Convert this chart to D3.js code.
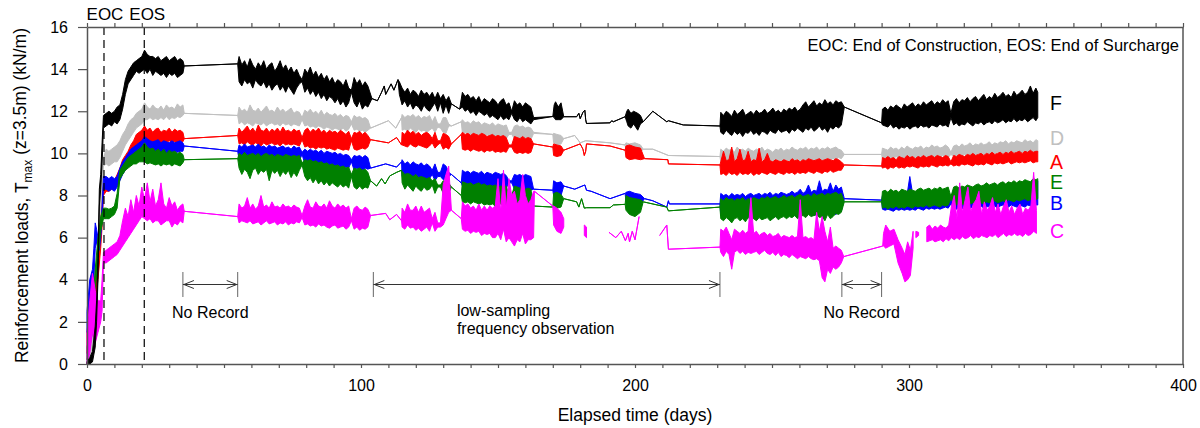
<!DOCTYPE html>
<html>
<head>
<meta charset="utf-8">
<script src="https://cdn.jsdelivr.net/npm/d3@7"></script>
<style>
  body { margin: 0; background: #fff; }
  svg { display: block; font-family: "Liberation Sans", Arial, sans-serif; }
</style>
</head>
<body>
<svg id="chart" width="1200" height="428"></svg>
<script>
'use strict';

// readings. A dense stretch is written as run(firstDay, lows, highs),
// one low/high pair per day; [day, value] is a single sparse reading; null = no record.
function run(t0, lo, hi) {
  return lo.map((v, i) => [t0 + i, v, hi[i]]);
}

const seriesF = [
  [0,0,0.1],[1,0,0.3],[2,0.1,0.6],[3,0.8,1.8],[3.5,2,3],[4,4,5],[4.5,7.5,8.3],[5,8.3,9],[5.5,9.5,10.5],
  ...run(6,
    [11.2,11.3,11.4,11.3,11.5,11.4,11.6,12.1,12.8,13.3,13.5,13.7,13.9,13.8,13.9,14.0,13.8,14.0,13.7,13.9,13.8,13.7,13.8,13.6,13.8,13.7,13.8,13.6,13.7,13.8],
    [11.8,11.9,12.0,11.9,12.0,12.2,12.3,12.8,13.5,13.9,14.1,14.3,14.4,14.5,14.6,14.9,14.7,14.6,14.6,14.5,14.6,14.4,14.5,14.6,14.4,14.5,14.6,14.4,14.5,14.4]),
  [35.5,14.15],[55,14.25],
  ...run(55.5,
    [13.4,13.2,13.5,13.3,13.4,13.1,13.5,13.3,13.2,13.4,13.1,13.3,13.0,13.2,13.3,13.0,13.2,12.9,13.2,13.0,12.8,13.1,13.3,13.4,
     12.9,13.1,12.8,13.0,12.7,12.9,12.6,12.8,12.5,12.7,12.6,12.4,12.6,12.3,12.5,12.2,12.4,12.9,12.4,12.2,12.5,12.1,12.3,12.2],
    [14.6,14.2,14.4,14.1,14.5,14.2,14.0,14.3,14.1,14.4,14.0,14.2,14.3,13.9,14.1,14.4,14.0,14.2,13.9,14.1,13.8,14.0,13.7,13.5,
     14.0,13.8,14.1,13.7,13.9,13.6,13.8,13.5,13.7,13.4,13.6,13.3,13.5,13.4,13.2,13.5,13.1,13.0,13.6,13.3,13.5,13.2,13.4,13.2]),
  [104,12.6],[106,12.5],[107.5,12.9],[108.5,13.2],[109,12.8],[111,13.3],[112,13.0],[113.5,13.5],
  ...run(114,
    [12.8,12.3,12.5,12.2,12.4,12.1,12.3,12.2,12.0,12.3,12.1,12.0,12.2,12.4,12.0,12.4,11.9,12.3,11.9,12.35],
    [13.4,13.1,12.9,13.1,12.8,13.0,12.9,12.7,13.0,12.8,12.9,12.7,12.9,12.6,12.9,12.6,12.8,12.5,12.7,12.35]),
  [136,12.1],
  ...run(137,
    [12.2,12.0,12.1,11.9,12.0,11.8,12.0,11.9,11.8,11.9,11.7,11.8,11.7,11.6,11.8,11.6,11.7,11.6,11.9,11.6,11.5,11.7,11.5,11.6,11.5,11.4,11.6],
    [12.9,12.7,12.8,12.6,12.7,12.5,12.7,12.4,12.6,12.5,12.4,12.6,12.5,12.3,12.5,12.6,12.3,12.4,12.0,12.5,12.3,12.4,12.2,12.4,12.3,12.2,11.7]),
  [170,11.75],[170.5,11.7,12.3],[171,11.6,12.45],[172,11.6,12.2],[173,11.6,12.4],[174,11.74],
  [178.7,11.74],[179.5,11.9],[180,11.65],[181,11.95],[181.7,12.05],[182,11.6],[182.3,11.42],
  [190.9,11.45],[191.5,11.55],[192.1,11.5],[196.4,11.74],
  [197,11.5,12.0],[197.5,11.3,12.1],[198.5,11.2,11.9],[199.5,11.4,12.0],[201,11.1,11.9],[202,11.4,11.8],
  [203,11.5],[206.5,12.0],[211.6,11.5],[212.2,11.55],[217.6,11.35],[231,11.3],
  ...run(231.3,
    [11.0,10.9,11.1,10.95,10.85,11.05,10.9,11.0,10.8,11.0,10.95,11.1,10.9,11.0,10.85,11.05,11.0,10.9,11.1,11.0,10.95,11.15,11.0,
     11.05,11.1,10.95,11.15,11.05,11.2,11.1,11.0,11.2,11.1,11.25,11.05,11.15,11.3,11.1,11.2,11.0,11.25,11.15,11.3,11.2,11.35],
    [11.95,11.8,12.0,11.9,11.75,12.05,11.85,11.95,12.1,11.8,11.9,12.0,11.85,12.05,11.9,11.95,12.1,11.9,12.0,12.15,11.95,12.05,11.9,
     12.1,12.0,12.15,12.05,12.2,12.0,12.1,12.3,12.45,12.2,12.35,12.5,12.25,12.4,12.3,12.55,12.35,12.45,12.3,12.5,12.4,12.45]),
  [276.4,12.2],[290,11.45],
  ...run(290.3,
    [11.35,11.3,11.25,11.4,11.2,11.3,11.15,11.25,11.2,11.3,11.15,11.25,11.3,11.2,11.35,11.25,11.3,11.2,11.35,11.3,
     11.25,11.4,11.3,11.35,11.25,11.7,11.35,11.45,11.3,11.4,11.35,11.5,11.4,11.3,11.45,11.4,11.5,11.35,11.45,11.5,
     11.4,11.55,11.45,11.5,11.6,11.45,11.55,11.5,11.65,11.5,11.6,11.55,11.65,11.5,11.6,11.7,11.55],
    [12.1,12.2,12.05,12.25,12.15,12.3,12.2,12.1,12.35,12.2,12.3,12.4,12.2,12.35,12.25,12.45,12.3,12.4,12.5,12.3,
     12.45,12.35,12.55,12.4,12.5,11.9,12.45,12.6,12.4,12.55,12.5,12.65,12.45,12.6,12.7,12.5,12.65,12.8,12.55,12.7,
     12.6,12.85,12.65,12.75,12.9,12.7,12.8,12.65,12.95,12.75,12.85,13.0,12.8,12.9,13.2,12.85,13.1]),
  [347,11.7,12.9]
];

const seriesD = [
  [0,0,0.3],[1,0.3,1],[2,0.8,2],[3,2,3.5],[4,4,5.5],[5,6,8],[5.5,8,9],
  ...run(6,
    [9.4,9.5,9.4,9.5,9.6,9.6,9.8,10.1,10.4,10.6,10.8,11.0,11.2,11.3,11.4,11.6,11.6,11.7,11.6,11.65,11.6,11.7,11.6,11.75,11.6,11.7,11.65,11.75,11.7,11.8],
    [9.8,10.2,10.1,10.2,10.3,10.4,10.6,10.9,11.1,11.4,11.6,11.7,11.9,12.0,12.1,12.4,12.2,12.1,12.3,12.15,12.1,12.25,12.05,12.3,12.15,12.2,12.1,12.35,12.2,12.3]),
  [35.5,11.9],[55,11.8],
  ...run(55.5,
    [11.4,11.5,11.35,11.45,11.4,11.3,11.45,11.4,11.35,11.45,11.3,11.4,11.45,11.35,11.4,11.3,11.45,11.35,11.4,11.3,11.4,11.35,11.3,11.6,
     11.3,11.35,11.25,11.3,11.2,11.3,11.25,11.15,11.25,11.2,11.1,11.2,11.15,11.1,11.2,11.05,11.15,11.4,11.1,11.15,11.05,11.1,11.0,11.1],
    [12.2,12.0,12.1,11.95,12.3,12.05,12.0,12.15,11.95,12.1,12.25,12.0,12.05,11.95,12.2,12.0,12.1,11.95,12.05,12.15,11.9,12.0,11.95,11.7,
     12.05,11.95,12.1,11.9,12.0,11.85,12.05,11.8,11.95,11.85,11.8,11.9,11.75,11.85,11.7,11.8,11.75,11.5,11.8,11.7,11.75,11.65,11.7,11.6]),
  [103.5,11.2],[110,11.55],[112.7,11.2],[114.8,11.7],
  ...run(115,
    [11.1,11.15,11.05,11.2,11.1,11.0,11.15,11.05,11.1,11.0,11.1,11.2,11.0,11.25,11.2,11.0,10.95,11.3,11.3],
    [11.85,11.7,11.8,11.75,11.85,11.7,11.8,11.65,11.75,11.7,11.8,11.5,11.75,11.4,11.4,11.7,11.7,11.4,11.3]),
  [136.6,11.5],
  ...run(137,
    [10.95,11.0,10.9,10.85,10.95,10.8,10.9,10.85,10.8,10.9,10.75,10.85,10.75,10.8,10.75,10.8,10.7,10.9,10.9,10.7,10.75,10.7,10.8,10.7,10.75,10.65,10.95],
    [11.6,11.45,11.5,11.4,11.55,11.45,11.5,11.35,11.45,11.4,11.35,11.45,11.3,11.4,11.35,11.3,11.35,11.0,11.0,11.3,11.35,11.25,11.3,11.2,11.25,11.2,11.0]),
  [170,10.9],[170.3,10.5,10.95],[171.5,10.4,10.9],[173,10.45,10.85],[174,10.7],
  [178,10.85],[180,10.5],[182,10.6],[190.9,10.5],[196.4,10.4],
  [196.7,10.1,10.5],[198,10.0,10.45],[200,10.1,10.5],[202,10.05,10.4],[203,10.2],
  [206.5,10.2],[212.2,9.9],[231,9.85],
  ...run(231.3,
    [9.6,9.65,9.55,9.65,9.6,9.7,9.6,9.55,9.65,9.6,9.7,9.6,9.65,9.55,9.6,9.7,9.65,9.6,9.55,9.65,9.6,9.7,9.65,
     9.6,9.7,9.65,9.6,9.7,9.75,9.65,9.7,9.65,9.75,9.7,9.65,9.7,9.75,9.65,9.7,9.75,9.7,9.75,9.7,9.8,9.75],
    [10.2,10.1,10.25,10.15,10.2,10.05,10.3,10.15,10.2,10.1,10.25,10.15,10.1,10.2,10.15,10.3,10.1,10.2,10.15,10.05,10.2,10.15,10.25,
     10.1,10.2,10.15,10.3,10.2,10.15,10.25,10.2,10.3,10.15,10.25,10.2,10.3,10.15,10.25,10.2,10.3,10.2,10.25,10.3,10.2,10.15]),
  [276.4,9.95],[290,9.95],
  ...run(290.3,
    [9.75,9.8,9.7,9.8,9.75,9.85,9.75,9.8,9.75,9.85,9.8,9.85,9.8,9.75,9.85,9.8,9.85,9.8,9.9,9.8,
     9.85,9.8,9.9,9.85,9.8,9.95,9.85,9.9,9.85,9.9,9.95,9.85,9.9,9.95,9.9,10.0,9.9,9.95,10.0,9.95,
     9.9,10.0,10.05,9.95,10.0,10.05,9.95,10.05,10.0,10.1,10.0,10.05,10.1,10.0,10.05,10.1,10.05],
    [10.25,10.2,10.15,10.3,10.2,10.25,10.15,10.3,10.2,10.35,10.25,10.2,10.3,10.25,10.35,10.2,10.3,10.25,10.4,10.3,
     10.35,10.25,10.3,10.4,10.3,10.05,10.35,10.4,10.3,10.45,10.35,10.4,10.5,10.35,10.45,10.4,10.5,10.4,10.45,10.55,
     10.4,10.5,10.45,10.55,10.5,10.6,10.45,10.55,10.5,10.6,10.55,10.5,10.65,10.55,10.6,10.5,10.65]),
  [347,10.05,10.6]
];

const seriesA = [
  [0,0.5,1.5],[1,1.5,2.8],[2,2,3.5],[3,3,4.2],[4,4,5.5],[5,5.5,6.8],[5.5,6.5,7.5],
  ...run(6,
    [8.0,8.2,8.2,8.3,8.3,8.5,8.8,9.2,9.5,9.7,9.9,10.1,10.2,10.3,10.4,10.5,10.5,10.6,10.5,10.55,10.6,10.5,10.55,10.5,10.6,10.5,10.55,10.5,10.6,10.55],
    [8.4,8.6,8.5,8.6,8.7,9.0,9.3,9.7,9.9,10.1,10.4,10.6,10.9,11.0,11.1,11.3,11.1,11.2,11.0,11.15,11.2,11.0,11.1,11.05,11.2,11.0,11.15,11.05,11.1,11.0]),
  [35.5,10.7],[55,10.85],
  ...run(55.5,
    [10.45,10.5,10.4,10.55,10.45,10.4,10.5,10.45,10.35,10.5,10.4,10.45,10.5,10.4,10.45,10.35,10.5,10.4,10.45,10.4,10.45,10.4,10.35,10.65,
     10.3,10.35,10.25,10.3,10.2,10.3,10.25,10.3,10.2,10.25,10.2,10.15,10.25,10.2,10.15,10.2,10.15,10.6,10.2,10.15,10.2,10.25,10.2,10.3],
    [11.2,11.0,11.15,11.3,11.05,11.2,11.0,11.35,11.1,11.05,11.2,11.0,11.15,11.05,11.2,11.0,11.25,11.05,11.1,11.0,11.15,11.05,11.1,10.75,
     11.1,11.2,11.0,11.15,11.05,11.2,11.0,11.1,10.95,11.1,11.0,11.05,10.95,11.1,11.0,10.9,11.05,10.7,11.0,10.95,11.05,10.9,11.0,10.85]),
  [103.5,10.65],[110,10.5],[113,10.75],[114.8,10.4],
  ...run(115,
    [10.4,10.35,10.3,10.45,10.35,10.3,10.4,10.35,10.3,10.25,10.35,10.5,10.25,10.4,10.5,10.2,10.3,10.2,10.45],
    [11.0,10.9,11.1,10.95,11.05,10.9,11.0,10.85,10.95,11.0,10.9,10.7,11.0,10.6,10.6,10.95,10.9,10.8,10.45]),
  [136.6,10.9],
  ...run(137,
    [10.2,10.15,10.2,10.1,10.2,10.15,10.1,10.15,10.05,10.15,10.1,10.15,10.05,10.1,10.05,10.1,10.05,10.3,10.3,10.05,10.0,10.05,10.0,10.05,10.0,10.05,10.45],
    [11.0,10.9,10.95,10.85,10.95,10.9,10.85,10.95,10.9,10.8,10.85,10.9,10.8,10.85,10.8,10.85,10.75,10.4,10.4,10.8,10.75,10.7,10.8,10.7,10.75,10.7,10.45]),
  [170,10.3],[170.3,9.9,10.45],[171.5,9.85,10.4],[173,9.9,10.35],[174,10.15],
  [180,10.45],[181,10.2],[181.5,9.9],[182,10.1],[182.3,10.45],[190.9,10.35],[196.4,10.15],
  [196.7,9.8,10.35],[198,9.7,10.4],[200,9.75,10.3],[202,9.7,10.25],[203.5,9.75],
  [212,9.7],[212.2,9.5],[231,9.45],
  ...run(231.3,
    [9.0,9.05,8.95,9.1,9.0,9.05,8.95,9.1,9.0,9.05,9.0,9.1,8.95,9.05,9.0,9.1,9.05,9.0,9.1,9.05,9.0,9.1,9.05,
     9.0,9.1,9.05,9.1,9.0,9.1,9.05,9.1,9.05,9.15,9.1,9.05,9.15,9.1,9.05,9.15,9.1,9.2,9.1,9.15,9.2,9.2],
    [9.6,10.1,9.65,9.7,10.3,9.6,9.75,10.2,9.65,9.7,10.1,9.6,9.7,9.65,10.25,9.6,9.7,10.0,9.65,9.6,9.7,9.65,9.6,
     9.7,9.65,9.6,9.75,9.65,9.7,9.6,9.7,9.65,9.75,9.7,9.65,9.7,9.75,9.65,9.7,9.75,9.7,9.65,9.75,9.7,9.6]),
  [276.4,9.45],[290,9.4],
  ...run(290.3,
    [9.3,9.35,9.25,9.35,9.3,9.4,9.3,9.35,9.3,9.4,9.35,9.4,9.35,9.3,9.4,9.35,9.4,9.35,9.45,9.4,
     9.35,9.45,9.4,9.45,9.4,9.5,9.4,9.45,9.4,9.5,9.45,9.5,9.45,9.4,9.5,9.45,9.5,9.45,9.55,9.5,
     9.45,9.55,9.5,9.55,9.5,9.55,9.6,9.5,9.55,9.6,9.55,9.6,9.55,9.6,9.65,9.55,9.6],
    [9.8,9.75,9.85,9.75,9.8,9.7,9.85,9.8,9.75,9.9,9.8,9.85,9.75,9.85,9.8,9.9,9.8,9.85,9.9,9.8,
     9.9,9.85,9.8,9.9,9.85,9.6,9.9,9.85,9.95,9.9,9.85,9.95,9.9,10.0,9.9,9.95,10.0,9.9,10.0,9.95,
     10.05,9.95,10.0,10.05,9.95,10.05,10.0,10.1,10.0,10.05,10.1,10.0,10.1,10.05,10.15,10.05,10.1]),
  [347,9.6,10.1]
];

const seriesB = [
  [0,1.5,2.5],[1,2,4],[2,3,4.5],[2.5,4,5.5],[3,5.5,6.7],[3.5,5.8,6.4],[4,5.5,6],[4.5,5.4,5.9],[5,6.0,6.5],[5.5,6.8,7.5],
  ...run(6,
    [8.3,8.3,8.2,8.3,8.2,8.4,8.7,9.0,9.2,9.4,9.6,9.8,9.9,10.0,10.0,10.1,10.1,10.05,10.1,10.0,10.0,10.05,10.1,10.0,10.0,10.05,10.1,10.05,10.1,10.1],
    [8.9,8.9,8.8,8.9,8.8,8.9,9.3,9.6,9.8,10.0,10.2,10.3,10.4,10.5,10.6,10.8,10.7,10.6,10.55,10.6,10.65,10.5,10.6,10.55,10.5,10.6,10.5,10.55,10.6,10.5]),
  [35.5,10.35],[55,10.1],
  ...run(55.5,
    [9.7,9.8,9.75,9.85,9.7,9.75,9.8,9.7,9.75,9.65,9.75,9.7,9.8,9.7,9.65,9.75,9.7,9.65,9.75,9.7,9.65,9.7,9.65,9.95,
     9.5,9.55,9.45,9.5,9.4,9.5,9.45,9.4,9.35,9.45,9.35,9.3,9.4,9.35,9.3,9.35,9.3,9.6,9.2,9.3,9.25,9.2,9.3,9.25],
    [10.4,10.3,10.45,10.3,10.35,10.4,10.3,10.45,10.3,10.35,10.25,10.4,10.3,10.35,10.25,10.3,10.35,10.25,10.3,10.2,10.35,10.25,10.3,10.05,
     10.2,10.1,10.2,10.1,10.15,10.05,10.15,10.0,10.1,10.05,10.0,10.05,9.95,10.0,9.9,9.95,9.9,9.7,9.9,9.85,9.9,9.8,9.9,9.8]),
  [103.5,9.3],[109,9.5],[113,9.35],[114.8,9.6],
  ...run(115,
    [8.9,8.8,8.85,8.8,8.75,8.85,8.8,8.75,8.8,8.7,8.8,9.0,8.7,8.9,8.9,8.75,8.8,8.9,9.0],
    [9.7,9.5,9.6,9.45,9.6,9.5,9.45,9.55,9.4,9.5,9.4,9.2,9.5,9.1,9.1,9.5,9.4,9.1,9.0]),
  [136.6,8.6],
  ...run(137,
    [8.45,8.4,8.45,8.4,8.45,8.4,8.35,8.4,8.35,8.4,8.35,8.3,8.35,8.3,8.35,8.3,8.35,8.6,8.6,8.3,8.3,8.35,8.3,8.25,8.3,8.25,8.3],
    [9.2,9.1,9.15,9.05,9.15,9.1,9.05,9.15,9.0,9.1,9.05,9.0,9.1,9.05,9.0,9.05,8.95,8.7,8.7,9.0,8.95,9.0,8.9,9.0,8.95,8.9,8.3]),
  [170,8.25],[170.3,8.0,8.7],[171.5,7.95,8.6],[173,8.0,8.65],[174,8.45],
  [178,8.3],[181.7,8.5],[182.3,8.25],[184,8.2],[190.9,7.85],[196.4,8.1],
  [196.7,7.7,8.15],[198,7.6,8.2],[200,7.65,8.1],[202,7.6,8.05],[203.5,7.85],
  [206.5,7.75],[211.6,7.45],[212.2,7.75],[212.5,7.6],[231,7.6],
  ...run(231.3,
    [7.05,7.1,7.0,7.1,7.05,7.0,7.1,7.05,7.1,7.0,7.05,7.1,7.0,7.1,7.05,7.1,7.0,7.05,7.1,7.05,7.0,7.1,7.05,
     7.1,7.0,7.05,7.1,7.05,7.1,7.05,7.1,7.05,7.15,7.1,7.05,7.1,7.15,7.05,7.1,7.15,7.1,7.15,7.1,7.2,7.25],
    [8.1,8.0,8.05,7.95,8.1,8.0,8.05,8.0,8.1,7.95,8.05,8.1,8.0,8.05,8.1,8.0,8.1,8.05,8.15,8.0,8.1,8.05,8.15,
     8.1,8.05,8.1,8.2,8.1,8.15,8.3,8.1,8.2,8.5,8.15,8.25,8.2,8.7,8.2,8.3,8.25,8.6,8.2,8.5,8.3,8.4]),
  [276.4,7.85],[290,7.78],
  ...run(290.3,
    [7.35,7.3,7.35,7.3,7.25,7.35,7.3,7.35,7.3,7.35,7.3,7.35,7.3,7.4,7.35,7.3,7.4,7.35,7.4,7.35,
     7.4,7.35,7.4,7.45,7.4,7.6,7.4,7.35,7.45,7.4,7.35,7.45,7.4,7.45,7.4,7.45,7.5,7.4,7.45,7.5,
     7.45,7.5,7.4,7.5,7.55,7.5,7.45,7.55,7.5,7.45,7.55,7.5,7.45,7.55,7.5,7.6,7.55],
    [8.0,8.05,7.95,8.05,8.0,8.05,8.0,8.1,8.0,8.05,8.9,8.1,8.0,8.1,8.05,8.1,8.0,8.1,8.05,8.1,
     8.15,8.05,8.1,8.2,8.1,7.7,8.3,8.15,8.2,8.15,8.25,8.2,8.15,8.25,8.2,8.3,8.2,8.25,8.2,8.3,
     8.25,8.3,8.2,8.35,8.3,8.25,8.35,8.3,8.4,8.3,8.35,8.5,8.4,8.45,8.5,8.6,8.7]),
  [347,7.55,8.7]
];

const seriesE = [
  [0,0.2,0.8],[1,0.8,1.5],[2,1.5,2.5],[3,3.5,4.5],[4,5,6],[5,6.3,7],
  ...run(6,
    [6.9,6.9,6.9,7.0,7.1,7.4,8.8,9.0,9.2,9.3,9.4,9.5,9.5,9.6,9.6,9.6,9.5,9.55,9.5,9.45,9.5,9.4,9.5,9.45,9.5,9.4,9.5,9.45,9.4,9.55],
    [7.4,7.4,7.35,7.4,7.5,8.1,9.2,9.4,9.6,9.8,9.9,10.0,10.1,10.2,10.3,10.5,10.3,10.2,10.25,10.1,10.2,10.05,10.2,10.0,10.15,10.05,10.1,10.0,10.05,9.95]),
  [35.5,9.7],[55,9.75],
  ...run(55.5,
    [9.3,9.0,9.25,9.1,8.8,9.2,9.3,9.0,9.2,9.1,9.25,8.7,9.2,9.05,9.2,8.9,9.15,9.0,9.2,8.85,9.1,8.9,9.2,9.45,
     8.9,8.7,8.85,8.6,8.8,8.55,8.7,8.5,8.65,8.45,8.6,8.5,8.4,8.55,8.4,8.5,8.35,8.9,8.4,8.3,8.45,8.3,8.4,8.35],
    [10.0,9.9,10.05,9.9,9.95,10.0,9.9,10.0,9.85,9.95,10.0,9.9,9.95,9.85,9.95,9.9,9.85,9.95,9.9,9.85,9.9,9.85,9.9,9.55,
     9.7,9.65,9.7,9.6,9.65,9.55,9.6,9.5,9.55,9.45,9.5,9.4,9.45,9.35,9.4,9.3,9.35,9.0,9.3,9.25,9.3,9.2,9.25,9.1]),
  [103.5,8.7],[105.7,8.45],[107.5,8.8],[108.8,8.55],[110.5,8.93],[113,9.1],[114.8,9.2],
  ...run(115,
    [8.6,8.3,8.5,8.35,8.2,8.45,8.3,8.2,8.4,8.25,8.3,8.5,8.1,8.4,8.4,8.1,8.2,8.1,8.4],
    [9.15,9.0,9.05,9.0,8.9,9.0,8.85,8.9,8.85,8.8,8.85,8.7,8.8,8.5,8.5,8.7,8.65,8.6,8.4]),
  [136.6,8.0],
  ...run(137,
    [7.7,7.65,7.7,7.6,7.7,7.65,7.6,7.65,7.55,7.6,7.55,7.6,7.5,7.55,7.6,7.5,7.55,7.9,7.9,7.5,7.55,7.5,7.55,7.45,7.5,7.45,7.5],
    [8.65,8.6,8.55,8.6,8.5,8.55,8.6,8.5,8.55,8.45,8.5,8.45,8.5,8.4,8.45,8.4,8.45,8.0,8.0,8.45,8.4,8.35,8.4,8.3,8.35,8.3,7.5]),
  [170,7.45],[170.3,7.45,8.1],[171.5,7.4,8.15],[173,7.45,8.05],[174,7.85],
  [178.7,7.7],[179.5,7.45],[180.5,7.85],[181.5,7.4],[182.3,7.42],[190.9,7.42],[192.1,7.55],[196.4,7.58],
  [196.7,7.3,8.0],[198,7.1,7.9],[200,7.0,7.85],[202,7.2,7.8],[203,7.7],
  [211.6,7.45],[212.2,7.27],[231,7.45],
  ...run(231.3,
    [6.9,6.8,6.95,6.85,6.7,6.9,6.95,6.8,6.9,6.75,6.95,6.85,6.9,6.8,6.95,6.85,6.9,6.95,6.8,6.9,7.0,6.85,6.95,
     7.0,6.9,7.0,6.95,7.05,6.9,7.0,7.05,6.95,7.1,7.0,7.05,7.1,6.95,7.0,6.8,7.1,6.9,7.0,7.15,7.1,7.2],
    [7.85,7.75,7.9,7.8,7.85,7.75,7.85,7.8,7.9,7.75,7.85,7.8,7.9,7.85,7.8,7.9,7.85,7.95,7.85,7.9,7.95,7.85,7.9,
     8.0,7.9,7.95,8.0,7.9,8.0,8.05,7.95,8.0,8.05,7.95,8.1,8.0,8.05,8.1,8.0,8.1,8.05,8.1,8.15,8.05,8.1]),
  [276.4,7.7],[290,7.7],
  ...run(290.3,
    [7.4,7.45,7.35,7.45,7.4,7.5,7.4,7.45,7.4,7.5,7.45,7.4,7.5,7.45,7.5,7.45,7.55,7.45,7.5,7.55,
     7.5,7.45,7.55,7.5,7.55,7.85,7.6,7.55,7.65,7.6,7.55,7.65,7.6,7.65,7.6,7.7,7.65,7.6,7.7,7.65,
     7.7,7.75,7.65,7.7,7.75,7.7,7.8,7.75,7.7,7.8,7.75,7.8,7.85,7.75,7.8,7.85,7.8],
    [8.2,8.25,8.15,8.3,8.2,8.25,8.15,8.3,8.25,8.2,8.3,8.25,8.2,8.3,8.35,8.25,8.3,8.35,8.25,8.35,
     8.3,8.4,8.3,8.35,8.4,7.95,8.4,8.45,8.35,8.45,8.4,8.5,8.45,8.4,8.5,8.55,8.45,8.5,8.6,8.5,
     8.55,8.6,8.5,8.6,8.65,8.55,8.65,8.6,8.7,8.6,8.7,8.65,8.75,8.7,8.65,8.8,8.75]),
  [347,7.85,8.8]
];

const seriesC = [
  [0,0,1.5],[1,0.5,3],[2,1.5,4.3],[3,1,3.5],[4,1.5,3],[5,2,3],[5.5,2.5,4],
  ...run(6,
    [4.8,4.8,4.9,5.0,5.1,5.2,5.4,5.6,5.8,6.0,6.2,6.4,6.6,6.8,7.0,6.9,6.8,6.9,6.7,6.8,6.8,6.6,6.7,6.8,6.8,6.5,6.7,6.6,6.8,6.7],
    [5.3,5.4,5.5,5.6,5.7,5.8,6.1,6.8,7.4,7.0,7.8,7.2,8.0,7.5,8.4,7.8,8.6,7.7,8.3,7.5,7.8,8.6,7.6,7.4,7.9,7.5,7.7,7.3,7.5,7.6]),
  [35.5,7.25],[55,7.0],
  ...run(55.5,
    [6.7,6.8,6.75,6.7,6.8,6.65,6.7,6.75,6.6,6.7,6.8,6.65,6.7,6.75,6.6,6.7,6.65,6.75,6.6,6.7,6.65,6.75,6.7,6.95,
     6.6,6.65,6.55,6.6,6.5,6.65,6.55,6.6,6.5,6.45,6.55,6.6,6.45,6.5,6.55,6.4,6.5,6.8,6.4,6.5,6.35,6.45,6.4,6.5],
    [7.6,7.4,7.5,7.9,7.4,7.6,7.35,7.5,8.0,7.45,7.55,7.4,7.7,7.45,7.5,7.4,7.6,7.45,7.5,7.4,7.55,7.45,7.4,7.05,
     7.5,7.8,7.45,7.4,7.7,7.5,7.45,7.6,7.4,7.75,7.5,7.4,7.6,7.45,7.55,7.4,7.5,6.9,7.4,7.5,7.35,7.3,7.45,7.35]),
  [103.5,7.05],[109,7.15],[110.5,6.85],[113,7.1],[114.8,6.8],
  ...run(115,
    [6.5,6.4,6.6,6.45,6.5,6.35,6.45,6.3,6.4,6.5,6.3,6.7,6.3,6.5,6.5,6.6,6.9,7.2,7.3],
    [7.4,7.2,7.6,7.3,7.3,7.5,7.2,7.5,7.2,7.3,7.4,6.9,7.2,6.7,6.7,8.5,9.0,9.4,7.3]),
  [136.6,6.9],
  ...run(137,
    [6.4,6.3,6.35,6.2,6.3,6.25,6.3,6.1,6.2,6.15,6.2,6.0,6.0,6.2,5.9,6.4,5.8,6.0,5.8,5.6,5.9,5.8,6.2,5.7,5.9,5.9,6.0],
    [7.7,7.5,7.6,7.4,7.5,7.3,7.6,7.3,7.5,7.3,7.5,7.4,7.5,8.8,7.2,9.2,7.4,8.8,8.0,8.2,7.6,7.8,9.0,8.0,7.6,7.8,8.2]),
  [163.3,8.2],[170,7.5],[170.3,6.6,7.5],[171.5,6.3,7.4],[173,6.2,7.2],[174,6.5,6.9],
  null,
  [181.5,6.1,6.6],[182.3,6.0,6.5],
  null,
  [190.5,6.25],[193,6.0],[195,6.3],[196.5,5.85],[197.5,6.2],[198,5.8],[199,6.3],[200,5.9],[201.5,7.0],
  null,
  [209,6.1],[211.6,6.6],[212.2,5.45],[231,5.55],
  ...run(231.3,
    [5.3,5.1,5.35,5.2,4.5,5.3,5.4,5.25,5.35,5.2,5.3,5.25,5.3,5.35,5.2,5.3,5.4,5.25,5.2,5.3,5.15,5.3,5.1,
     5.2,5.15,5.05,5.2,5.1,5.0,5.1,5.05,5.0,5.1,5.0,4.95,5.0,4.9,4.1,3.9,4.5,4.3,4.6,4.5,4.6,4.8],
    [6.4,6.3,6.5,6.2,5.9,6.4,6.3,6.2,6.35,6.2,6.3,7.9,6.2,6.3,6.1,6.2,6.25,6.1,6.2,6.05,6.1,6.2,6.0,
     6.1,6.05,6.0,6.1,6.0,6.05,7.8,6.0,6.05,5.95,6.0,5.9,7.2,6.3,7.0,6.3,5.8,6.5,5.5,5.6,5.5,5.4]),
  [276.2,5.1],[290.4,5.6],
  [290.7,5.6,6.2],[291.5,5.5,6.6],[293,5.6,6.3],[294.5,5.7,6.4],[296,4.8,5.9],[297.5,4.3,5.5],
  [298.5,3.9,5.2],[299.5,4.0,5.8],[300.5,4.2,5.4],[301.5,5.5,6.3],
  null,
  [302.5,6.0,6.3],[303.5,6.1,6.25],
  null,
  ...run(306.5,
    [5.8,5.85,5.9,5.8,5.85,5.9,5.8,5.95,5.85,6.0,5.9,6.0,5.9,6.05,5.95,6.0,6.1,5.95,6.05,6.0,
     6.1,6.05,6.0,6.1,6.05,6.15,6.0,6.1,6.2,6.05,6.15,6.1,6.2,6.1,6.15,6.05,6.2,6.1,6.15,6.3,6.2],
    [6.5,6.6,6.4,6.55,6.45,6.6,6.5,6.45,6.6,7.5,8.0,6.9,8.6,7.2,7.8,8.4,7.2,7.6,7.8,8.2,
     7.1,7.7,7.3,7.5,7.9,7.2,7.6,7.1,7.5,7.8,7.2,7.5,7.1,7.4,7.6,7.1,7.4,7.3,7.5,9.1,7.3])
];

const seriesNames  = ["D", "A", "B", "E", "C", "F"];   // drawing order
const seriesData   = [seriesD, seriesA, seriesB, seriesE, seriesC, seriesF];
const seriesColors = ["#c0c0c0", "#ff0000", "#0000ff", "#008000", "#ff00ff", "#000000"];
// right-hand labels, top to bottom, with the load level they sit at
const labelNames  = ["F", "D", "A", "E", "B", "C"];
const labelLevels = [12.4, 10.75, 9.6, 8.65, 7.65, 6.3];

const xTicks = d3.range(0, 401, 10);
const yTicks = d3.range(0, 17, 2);
const eventDays  = [6.2, 20.9];
const eventNames = ["EOC", "EOS"];
const gapSpans = [[35, 55], [104.5, 231], [275.5, 290]];
const gapNotes = [["No Record"], ["low-sampling", "frequency observation"], ["No Record"]];

const svg = d3.select("#chart");

const x = d3.scaleLinear().domain([0, 400]).range([87, 1183]);
const y = d3.scaleLinear().domain([0, 16]).range([364, 27]);

const axisColor = "#555";

// series
const area = d3.area()
  .defined(d => d !== null)
  .x(d => x(d[0]))
  .y0(d => y(d[1]))
  .y1(d => y(d.length > 2 ? d[2] : d[1]));

seriesData.forEach((data, i) => {
  svg.append("path")
    .datum(data)
    .attr("d", area)
    .attr("fill", seriesColors[i])
    .attr("stroke", seriesColors[i])
    .attr("stroke-width", 1)
    .attr("stroke-linejoin", "miter");
});

// EOC / EOS markers
eventDays.forEach((d, i) => {
  svg.append("line")
    .attr("x1", x(d)).attr("x2", x(d))
    .attr("y1", y(16)).attr("y2", y(0))
    .attr("stroke", "#000")
    .attr("stroke-width", 1.2)
    .attr("stroke-dasharray", "8,5");
  svg.append("text")
    .attr("x", x(d) + (i === 0 ? 1 : 3))
    .attr("y", 20)
    .attr("text-anchor", "middle")
    .style("font-size", "17px")
    .text(eventNames[i]);
});

// axes
const xAxis = svg.append("g")
  .attr("transform", "translate(0," + y(0) + ")")
  .call(d3.axisBottom(x).tickValues(xTicks).tickSizeInner(4).tickSizeOuter(0).tickPadding(12)
    .tickFormat(d => d % 100 === 0 ? d : ""));

const xTop = svg.append("g")
  .attr("transform", "translate(0," + y(16) + ")")
  .call(d3.axisBottom(x).tickValues(xTicks).tickSizeInner(-4).tickSizeOuter(0).tickFormat(""));

const yAxis = svg.append("g")
  .attr("transform", "translate(" + x(0) + ",0)")
  .call(d3.axisLeft(y).tickValues(yTicks).tickSizeInner(9).tickSizeOuter(0).tickPadding(10));

svg.append("line")
  .attr("x1", x(400)).attr("x2", x(400))
  .attr("y1", y(0)).attr("y2", y(16))
  .attr("stroke", axisColor).attr("stroke-width", 1.5);

[xAxis, xTop, yAxis].forEach(g => {
  g.select(".domain").attr("stroke", axisColor).attr("stroke-width", 1.5);
  g.selectAll(".tick line").attr("stroke", axisColor).attr("stroke-width", 1.2);
  g.selectAll(".tick text")
    .attr("fill", "#000")
    .style("font-size", "16px")
    .style("font-family", "'Liberation Sans', Arial, sans-serif");
});

// axis titles
svg.append("text")
  .attr("x", (x(0) + x(400)) / 2)
  .attr("y", 421)
  .attr("text-anchor", "middle")
  .style("font-size", "17.5px")
  .text("Elapsed time (days)");

const yTitle = svg.append("text")
  .attr("transform", "translate(28," + (y(0) + y(16)) / 2 + ") rotate(-90)")
  .attr("text-anchor", "middle")
  .style("font-size", "17.5px");
yTitle.append("tspan").text("Reinforcement loads, T");
yTitle.append("tspan").attr("dy", "0.3em").style("font-size", "12px").text("max");
yTitle.append("tspan").attr("dy", "-0.3em").text(" (z=3.5m) (kN/m)");

// note
svg.append("text")
  .attr("x", x(400) - 4)
  .attr("y", 51)
  .attr("text-anchor", "end")
  .style("font-size", "16.5px")
  .text("EOC: End of Construction, EOS: End of Surcharge");

// right-hand series labels
labelNames.forEach((name, i) => {
  svg.append("text")
    .attr("x", x(351.5))
    .attr("y", y(labelLevels[i]))
    .attr("dy", "0.36em")
    .attr("fill", seriesColors[seriesNames.indexOf(name)])
    .style("font-size", "19.5px")
    .text(name);
});

// record-gap annotations
const arrowY = 284.5;
gapSpans.forEach((span, i) => {
  const x0 = x(span[0]), x1 = x(span[1]);
  const g = svg.append("g").attr("stroke", "#333").attr("fill", "none");
  g.append("line").attr("x1", x0).attr("x2", x0).attr("y1", 272).attr("y2", 297).attr("stroke", "#666");
  g.append("line").attr("x1", x1).attr("x2", x1).attr("y1", 272).attr("y2", 297).attr("stroke", "#666");
  g.append("line").attr("x1", x0).attr("x2", x1).attr("y1", arrowY).attr("y2", arrowY);
  g.append("path").attr("d", `M${x0 + 11},${arrowY - 4}L${x0 + 1},${arrowY}L${x0 + 11},${arrowY + 4}`);
  g.append("path").attr("d", `M${x1 - 11},${arrowY - 4}L${x1 - 1},${arrowY}L${x1 - 11},${arrowY + 4}`);

  const lines = gapNotes[i];
  const multi = lines.length > 1;
  const t = svg.append("text")
    .attr("text-anchor", multi ? "start" : "middle")
    .style("font-size", "16px");
  lines.forEach((s, k) => {
    t.append("tspan")
      .attr("x", multi ? x(135) : (x0 + x1) / 2)
      .attr("y", (multi ? 316 : 318) + k * 18)
      .text(s);
  });
});
</script>
</body>
</html>
